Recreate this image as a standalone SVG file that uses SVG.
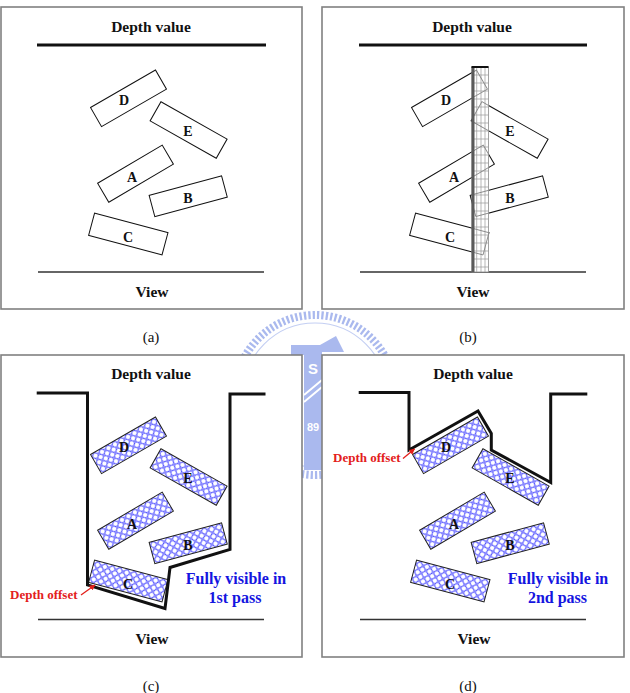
<svg xmlns="http://www.w3.org/2000/svg" width="630" height="693" viewBox="0 0 630 693">
<style>
.panel{fill:#fff;stroke:#808080;stroke-width:1.6}
.t{font-family:"Liberation Serif","Times New Roman",serif;font-weight:bold;text-anchor:middle;fill:#111}
.cap{font-family:"Liberation Serif","Times New Roman",serif;font-size:15px;text-anchor:middle;fill:#111}
.lbl{font-family:"Liberation Serif","Times New Roman",serif;font-weight:bold;font-size:14px;text-anchor:middle;fill:#111}
.box{fill:#fff;stroke:#111;stroke-width:1}
.hbox{fill:url(#hatch);stroke:#222;stroke-width:1}
.gbox{fill:none;stroke:#8a8a8a;stroke-width:0.9}
.depth{fill:none;stroke:#111;stroke-width:3}
.bound{fill:none;stroke:#111;stroke-width:3;stroke-linejoin:miter}
.view{stroke:#333;stroke-width:1.3}
.off{font-family:"Liberation Serif","Times New Roman",serif;font-weight:bold;font-size:13px;fill:#e3201b}
.vis{font-family:"Liberation Serif","Times New Roman",serif;font-weight:bold;font-size:16px;fill:#1515e0;text-anchor:middle}
.wm{fill:#aab9ee}
</style>
<defs>
<pattern id="hatch" width="7.5" height="7.5" patternUnits="userSpaceOnUse">
<rect width="7.5" height="7.5" fill="#fff"/>
<path d="M0,0L7.5,7.5M7.5,0L0,7.5" stroke="#3333ff" stroke-width="0.5" fill="none"/>
<g fill="none" stroke="#3333ff" stroke-width="0.5">
<circle cx="3.75" cy="0" r="2.65"/><circle cx="3.75" cy="7.5" r="2.65"/>
<circle cx="0" cy="3.75" r="2.65"/><circle cx="7.5" cy="3.75" r="2.65"/>
</g>
</pattern>
<marker id="arr" viewBox="0 0 10 10" refX="9" refY="5" markerWidth="6" markerHeight="6" orient="auto-start-reverse" markerUnits="userSpaceOnUse">
<path d="M0,0L10,5L0,10z" fill="#e3201b"/>
</marker>
<rect id="rD" x="-37.5" y="-11" width="75" height="22" transform="translate(128.5,98.3) rotate(-30)"/>
<rect id="rE" x="-38" y="-11" width="76" height="22" transform="translate(188.6,130) rotate(29.5)"/>
<rect id="rA" x="-37.5" y="-11" width="75" height="22" transform="translate(135.5,173.7) rotate(-30.5)"/>
<rect id="rB" x="-37.5" y="-11" width="75" height="22" transform="translate(188.2,196.2) rotate(-15)"/>
<rect id="rC" x="-38" y="-11.5" width="76" height="23" transform="translate(128.3,234) rotate(15)"/>
<clipPath id="colclip"><rect x="151" y="67" width="16.5" height="205"/></clipPath>
</defs>
<rect width="630" height="693" fill="#fff"/>

<!-- watermark -->
<g id="watermark">
<circle cx="315" cy="395" r="80" fill="none" stroke="#aab9ee" stroke-width="8" stroke-dasharray="2.3 2.1"/>
<circle cx="315" cy="395" r="72" fill="none" stroke="#c4cff3" stroke-width="1.2"/>
<path class="wm" d="M291,345H320L336,336L344,352L322,352V470H304V355H291Z"/>
<text x="313" y="374" font-family="Liberation Sans,Arial,sans-serif" font-weight="bold" font-size="15" fill="#fff" text-anchor="middle">S</text>
<path d="M304,395L322,380M304,402L322,387" stroke="#fff" stroke-width="2"/>
<text x="313" y="431" font-family="Liberation Sans,Arial,sans-serif" font-weight="bold" font-size="11" fill="#fff" text-anchor="middle">89</text>
</g>

<!-- panel (a) -->
<g id="panel-a">
<rect class="panel" x="1" y="7" width="301" height="302"/>
<text class="t" x="151" y="32" font-size="15.5">Depth value</text>
<line class="depth" x1="37" y1="45" x2="266" y2="45"/>
<line class="view" x1="38" y1="272" x2="264" y2="272"/>
<text class="t" x="152" y="296.5" font-size="15.5">View</text>
<g id="a-D"><use href="#rD" class="box"/><text class="lbl" x="124" y="105">D</text></g>
<g id="a-E"><use href="#rE" class="box"/><text class="lbl" x="188" y="136">E</text></g>
<g id="a-A"><use href="#rA" class="box"/><text class="lbl" x="132" y="182">A</text></g>
<g id="a-B"><use href="#rB" class="box"/><text class="lbl" x="188" y="203">B</text></g>
<g id="a-C"><use href="#rC" class="box"/><text class="lbl" x="128" y="242">C</text></g>
</g>

<!-- panel (b) -->
<g id="panel-b">
<rect class="panel" x="322" y="7" width="302" height="302"/>
<g transform="translate(321,0)">
<text class="t" x="151" y="32" font-size="15.5">Depth value</text>
<line class="depth" x1="38" y1="45" x2="266" y2="45"/>
<line class="view" x1="39" y1="272" x2="265" y2="272"/>
<text class="t" x="152" y="296.5" font-size="15.5">View</text>
<g id="b-D"><use href="#rD" class="box"/><text class="lbl" x="125" y="105">D</text></g>
<g id="b-E"><use href="#rE" class="box"/><text class="lbl" x="189" y="136">E</text></g>
<g id="b-A"><use href="#rA" class="box"/><text class="lbl" x="133" y="182">A</text></g>
<g id="b-B"><use href="#rB" class="box"/><text class="lbl" x="189" y="203">B</text></g>
<g id="b-C"><use href="#rC" class="box"/><text class="lbl" x="129" y="242">C</text></g>
<g id="b-column">
<rect x="151" y="67" width="16.5" height="205" fill="#fff" stroke="#8a8a8a" stroke-width="0.8"/>
<g stroke="#9a9a9a" stroke-width="0.7">
<line x1="155.7" y1="67" x2="155.7" y2="272"/>
<line x1="160" y1="67" x2="160" y2="272"/>
<line x1="164" y1="67" x2="164" y2="272"/>
<path d="M151,75H167.5M151,83H167.5M151,91H167.5M151,99H167.5M151,107H167.5M151,115H167.5M151,123H167.5M151,131H167.5M151,139H167.5M151,147H167.5M151,155H167.5M151,163H167.5M151,171H167.5M151,179H167.5M151,187H167.5M151,195H167.5M151,203H167.5M151,211H167.5M151,219H167.5M151,227H167.5M151,235H167.5M151,243H167.5M151,251H167.5M151,259H167.5M151,267H167.5"/>
</g>
<g clip-path="url(#colclip)">
<use href="#rD" class="gbox"/><use href="#rE" class="gbox"/><use href="#rA" class="gbox"/><use href="#rB" class="gbox"/><use href="#rC" class="gbox"/>
</g>
<rect x="150.5" y="67" width="3" height="205" fill="#5a5a5a"/>
<line x1="150.5" y1="67" x2="167.5" y2="67" stroke="#111" stroke-width="2"/>
</g>
</g>
</g>

<!-- panel (c) -->
<g id="panel-c">
<rect class="panel" x="1" y="355" width="301" height="302"/>
<g transform="translate(0,347)">
<text class="t" x="151" y="32" font-size="15.5">Depth value</text>
<line class="view" x1="38" y1="272.5" x2="264" y2="272.5"/>
<text class="t" x="152" y="296.5" font-size="15.5">View</text>
<g id="c-D"><use href="#rD" class="hbox"/><text class="lbl" x="124" y="105">D</text></g>
<g id="c-E"><use href="#rE" class="hbox"/><text class="lbl" x="188" y="136">E</text></g>
<g id="c-A"><use href="#rA" class="hbox"/><text class="lbl" x="132" y="182">A</text></g>
<g id="c-B"><use href="#rB" class="hbox"/><text class="lbl" x="188" y="203">B</text></g>
<g id="c-C"><use href="#rC" class="hbox"/><text class="lbl" x="128" y="242">C</text></g>
</g>
<path class="bound" d="M36.7,393H87.5V585L165,608.5L170,567.5L230,549.5V394H265.5"/>
<text class="off" x="10" y="599">Depth offset</text>
<line x1="81" y1="595" x2="95" y2="585" stroke="#e3201b" stroke-width="1.3" marker-end="url(#arr)"/>
<text class="vis" x="236" y="584">Fully visible in</text>
<text class="vis" x="235" y="603">1st pass</text>
</g>

<!-- panel (d) -->
<g id="panel-d">
<rect class="panel" x="322" y="355" width="302" height="302"/>
<g transform="translate(322,347)">
<text class="t" x="151" y="32" font-size="15.5">Depth value</text>
<line class="view" x1="38" y1="272.5" x2="264" y2="272.5"/>
<text class="t" x="152" y="296.5" font-size="15.5">View</text>
<g id="d-D"><use href="#rD" class="hbox"/><text class="lbl" x="124" y="105">D</text></g>
<g id="d-E"><use href="#rE" class="hbox"/><text class="lbl" x="188" y="136">E</text></g>
<g id="d-A"><use href="#rA" class="hbox"/><text class="lbl" x="132" y="182">A</text></g>
<g id="d-B"><use href="#rB" class="hbox"/><text class="lbl" x="188" y="203">B</text></g>
<g id="d-C"><use href="#rC" class="hbox"/><text class="lbl" x="128" y="242">C</text></g>
</g>
<path class="bound" d="M358.7,392.5H409V450L478,411L491.3,433.5V450L550.7,482.5V394H587.3"/>
<text class="off" x="333" y="462">Depth offset</text>
<line x1="403" y1="458.5" x2="414.5" y2="449" stroke="#e3201b" stroke-width="1.3" marker-end="url(#arr)"/>
<text class="vis" x="558" y="584">Fully visible in</text>
<text class="vis" x="557.5" y="603">2nd pass</text>
</g>

<!-- captions -->
<text class="cap" x="151" y="342">(a)</text>
<text class="cap" x="468" y="342">(b)</text>
<text class="cap" x="151" y="691">(c)</text>
<text class="cap" x="468" y="691">(d)</text>
</svg>
